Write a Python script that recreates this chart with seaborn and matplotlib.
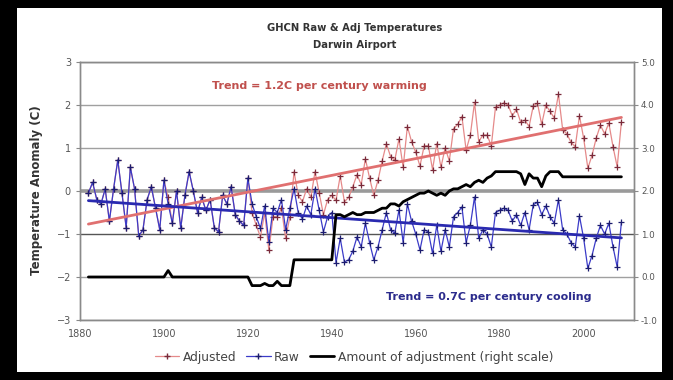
import numpy as np
import pandas as pd
import matplotlib
matplotlib.use("Agg")
import matplotlib.pyplot as plt
import seaborn as sns
from matplotlib.lines import Line2D
from matplotlib.patches import Rectangle

# --- data (annual, 1882-2009) ---
years = list(range(1882, 2010))

raw = [
    -0.05, 0.2, -0.2, -0.3, 0.05, -0.7, 0.05, 0.72, -0.05, -0.85,      # 1882-1891
    0.55, 0.05, -1.05, -0.9, -0.2, 0.1, -0.4, -0.9, 0.25, -0.3,        # 1892-1901
    -0.75, 0.0, -0.86, -0.1, 0.45, 0.0, -0.5, -0.15, -0.45, -0.2,      # 1902-1911
    -0.85, -0.95, -0.1, -0.3, 0.1, -0.55, -0.7, -0.8, 0.3, -0.3,       # 1912-1921
    -0.6, -0.87, -0.35, -1.18, -0.4, -0.5, -0.2, -0.9, -0.4, 0.05,     # 1922-1931
    -0.5, -0.65, -0.35, -0.55, 0.05, -0.45, -0.95, -0.6, -0.5, -1.67,  # 1932-1941
    -1.1, -1.65, -1.6, -1.4, -1.07, -1.3, -0.75, -1.2, -1.6, -1.3,     # 1942-1951
    -0.9, -0.5, -0.9, -0.98, -0.44, -1.2, -0.3, -0.7, -1.0, -1.37,     # 1952-1961
    -0.9, -0.95, -1.45, -0.8, -1.4, -0.9, -1.3, -0.6, -0.5, -0.37,     # 1962-1971
    -1.2, -0.8, -0.14, -1.1, -0.9, -1.0, -1.3, -0.5, -0.45, -0.4,      # 1972-1981
    -0.45, -0.7, -0.55, -0.8, -0.5, -0.9, -0.32, -0.26, -0.55, -0.35,  # 1982-1991
    -0.6, -0.75, -0.2, -0.9, -1.0, -1.2, -1.3, -0.58, -1.1, -1.8,      # 1992-2001
    -1.5, -1.1, -0.8, -1.0, -0.75, -1.3, -1.77, -0.72,                 # 2002-2009
]

adjusted = [
    -0.05, 0.2, -0.2, -0.3, 0.05, -0.7, 0.05, 0.72, -0.05, -0.85,
    0.55, 0.05, -1.05, -0.9, -0.2, 0.1, -0.4, -0.9, 0.25, -0.15,
    -0.75, 0.0, -0.86, -0.1, 0.45, 0.0, -0.5, -0.15, -0.45, -0.2,
    -0.85, -0.95, -0.1, -0.3, 0.1, -0.55, -0.7, -0.8, 0.3, -0.5,
    -0.8, -1.07, -0.5, -1.38, -0.6, -0.6, -0.4, -1.1, -0.6, 0.45,
    -0.1, -0.25, 0.05, -0.15, 0.45, -0.05, -0.55, -0.2, -0.1, -0.22,
    0.35, -0.25, -0.15, 0.1, 0.38, 0.15, 0.75, 0.3, -0.1, 0.25,
    0.7, 1.1, 0.8, 0.72, 1.21, 0.55, 1.5, 1.15, 0.9, 0.58,
    1.05, 1.05, 0.5, 1.1, 0.55, 1.0, 0.7, 1.45, 1.55, 1.73,
    0.95, 1.3, 2.06, 1.15, 1.3, 1.3, 1.05, 1.95, 2.0, 2.05,
    2.0, 1.75, 1.9, 1.6, 1.65, 1.5, 1.98, 2.04, 1.55, 2.0,
    1.85, 1.7, 2.25, 1.43, 1.33, 1.13, 1.03, 1.75, 1.23, 0.53,
    0.83, 1.23, 1.53, 1.33, 1.58, 1.03, 0.56, 1.61,
]

# amount of adjustment (right scale)
adjustment = [
    0.0, 0.0, 0.0, 0.0, 0.0, 0.0, 0.0, 0.0, 0.0, 0.0,
    0.0, 0.0, 0.0, 0.0, 0.0, 0.0, 0.0, 0.0, 0.0, 0.15,
    0.0, 0.0, 0.0, 0.0, 0.0, 0.0, 0.0, 0.0, 0.0, 0.0,
    0.0, 0.0, 0.0, 0.0, 0.0, 0.0, 0.0, 0.0, 0.0, -0.2,
    -0.2, -0.2, -0.15, -0.2, -0.2, -0.1, -0.2, -0.2, -0.2, 0.4,
    0.4, 0.4, 0.4, 0.4, 0.4, 0.4, 0.4, 0.4, 0.4, 1.45,
    1.45, 1.4, 1.45, 1.5, 1.45, 1.45, 1.5, 1.5, 1.5, 1.55,
    1.6, 1.6, 1.7, 1.7, 1.65, 1.75, 1.8, 1.85, 1.9, 1.95,
    1.95, 2.0, 1.95, 1.9, 1.95, 1.9, 2.0, 2.05, 2.05, 2.1,
    2.15, 2.1, 2.2, 2.25, 2.2, 2.3, 2.35, 2.45, 2.45, 2.45,
    2.45, 2.45, 2.45, 2.4, 2.15, 2.4, 2.3, 2.3, 2.1, 2.35,
    2.45, 2.45, 2.45, 2.33, 2.33, 2.33, 2.33, 2.33, 2.33, 2.33,
    2.33, 2.33, 2.33, 2.33, 2.33, 2.33, 2.33, 2.33,
]

x_ticks = [1880, 1900, 1920, 1940, 1960, 1980, 2000]
left_ticks = [-3, -2, -1, 0, 1, 2, 3]
right_ticks = [-1.0, 0.0, 1.0, 2.0, 3.0, 4.0, 5.0]

df = pd.DataFrame({"year": years, "raw": raw, "adjusted": adjusted,
                   "adjustment": adjustment})

# colours
ADJ_LINE = "#e58a8a"
ADJ_MARK = "#7a2a3a"
RAW_LINE = "#3b3bc8"
RAW_MARK = "#1c1c6e"
GRID = "#a0a0a0"
TXT = "#555555"

sns.set_style("white")
plt.rcParams["font.family"] = ["DejaVu Sans"]

fig = plt.figure(figsize=(6.73, 3.8), dpi=100)
fig.patch.set_facecolor("black")
fig.add_artist(Rectangle((17 / 673, 8 / 380), (662 - 17) / 673, (372 - 8) / 380,
                         transform=fig.transFigure, facecolor="white",
                         edgecolor="none", zorder=-5))

ax = fig.add_axes([80 / 673, 60 / 380, (634 - 80) / 673, (320 - 62) / 380])
ax.set_xlim(1880, 2012)
ax.set_ylim(-3, 3)

# grid lines
for v in left_ticks:
    if v == 0:
        ax.axhline(v, color="#9a9a9a", lw=2.6, zorder=1)
    elif v == -1:
        ax.axhline(v, color="#555555", lw=1.0, zorder=1)
    else:
        ax.axhline(v, color=GRID, lw=1.0, zorder=1)

# series
sns.lineplot(data=df, x="year", y="adjusted", ax=ax, color=ADJ_LINE, lw=0.9,
             marker="+", markersize=4.5, markeredgecolor=ADJ_MARK,
             markeredgewidth=0.9, zorder=3)
sns.lineplot(data=df, x="year", y="raw", ax=ax, color=RAW_LINE, lw=0.9,
             marker="+", markersize=4.5, markeredgecolor=RAW_MARK,
             markeredgewidth=0.9, zorder=4)

# trend lines
sns.regplot(data=df, x="year", y="adjusted", ax=ax, scatter=False, ci=None,
            line_kws=dict(color="#e07070", lw=2.0, zorder=5))
sns.regplot(data=df, x="year", y="raw", ax=ax, scatter=False, ci=None,
            line_kws=dict(color="#2a2ab0", lw=2.0, zorder=5))

ax.text(1937, 2.44, "Trend = 1.2C per century warming", color="#c0504d",
        fontsize=8, fontweight="bold", ha="center", va="center")
ax.text(1977.5, -2.47, "Trend = 0.7C per century cooling", color="#2b2b8c",
        fontsize=8, fontweight="bold", ha="center", va="center")

ax.set_xticks(x_ticks)
ax.set_yticks(left_ticks)
ax.set_xlabel("")
ax.set_ylabel("")
ax.tick_params(axis="both", labelsize=7, labelcolor=TXT, colors="#888888",
               length=3, width=0.8, direction="out")
for s in ax.spines.values():
    s.set_color("#8a8a8a")
    s.set_linewidth(1.0)

# right scale: amount of adjustment
ax2 = ax.twinx()
ax2.set_ylim(-1, 5)
sns.lineplot(data=df, x="year", y="adjustment", ax=ax2, color="black", lw=2.0)
ax2.set_yticks(right_ticks)
ax2.set_yticklabels([f"{v:.1f}" for v in right_ticks])
ax2.set_ylabel("")
ax2.tick_params(axis="y", labelsize=6.3, labelcolor=TXT, colors="#888888",
                length=3, width=0.8, direction="out", pad=2)
for s in ax2.spines.values():
    s.set_color("#8a8a8a")
    s.set_linewidth(1.0)

fig.text(0.527, 0.927, "GHCN Raw & Adj Temperatures", ha="center", va="center",
         fontsize=7.2, fontweight="bold", color="#333333")
fig.text(0.527, 0.882, "Darwin Airport", ha="center", va="center",
         fontsize=7.2, fontweight="bold", color="#333333")
fig.text(37 / 673, 0.5, "Temperature Anomaly (C)", rotation=90, ha="center",
         va="center", fontsize=8.5, fontweight="bold", color="#333333")

handles = [
    Line2D([], [], color=ADJ_LINE, lw=0.9, marker="+", markersize=4.5,
           markeredgecolor=ADJ_MARK),
    Line2D([], [], color=RAW_LINE, lw=0.9, marker="+", markersize=4.5,
           markeredgecolor=RAW_MARK),
    Line2D([], [], color="black", lw=2.0),
]
labels = ["Adjusted", "Raw", "Amount of adjustment (right scale)"]
fig.legend(handles, labels, loc="center", bbox_to_anchor=(0.526, 0.06), ncol=3,
           frameon=False, fontsize=8.8, handlelength=2.0, handletextpad=0.3,
           columnspacing=0.8, labelcolor="#444444")

fig.savefig("out.png", dpi=100, facecolor=fig.get_facecolor())
